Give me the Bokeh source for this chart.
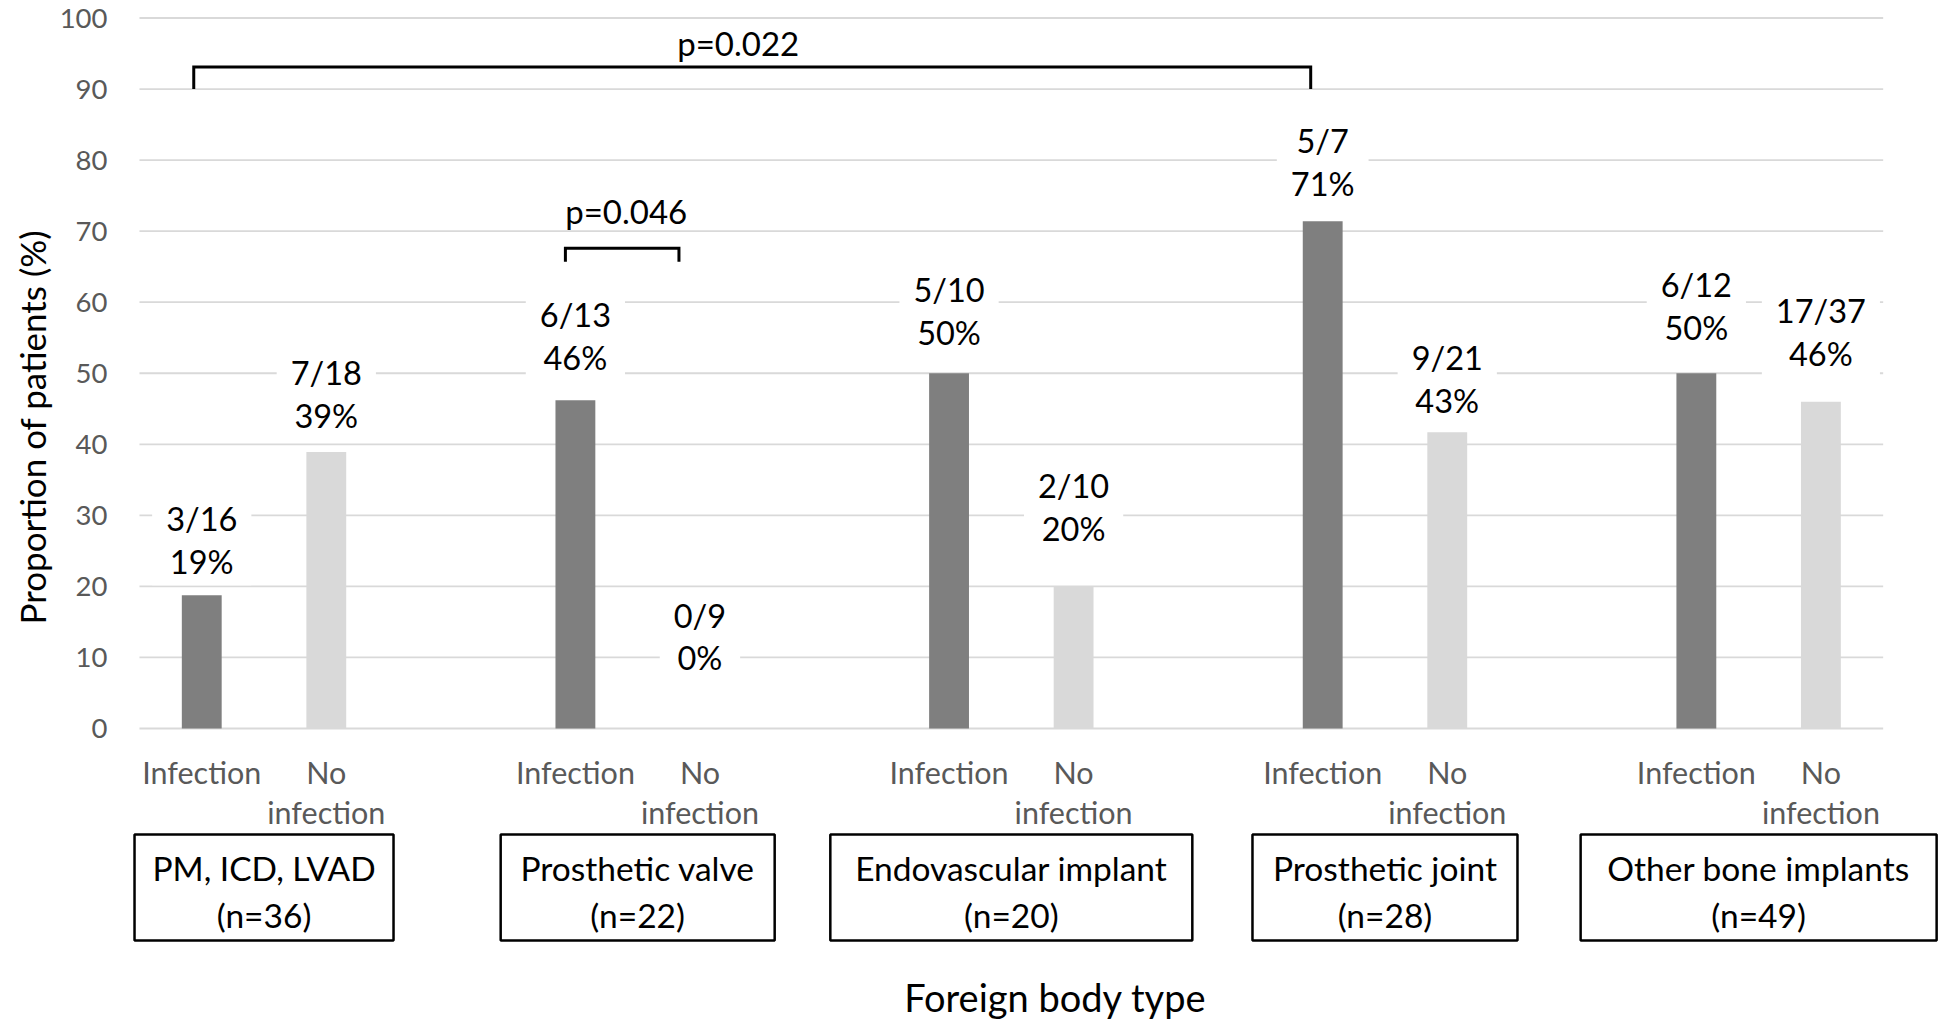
from bokeh.plotting import figure
from bokeh.models import ColumnDataSource, FixedTicker, Range1d, Title
from bokeh.core.properties import value
from bokeh.embed import file_html
from bokeh.resources import INLINE

# ---------------- data ----------------
groups = ["PM, ICD, LVAD", "Prosthetic valve", "Endovascular implant",
          "Prosthetic joint", "Other bone implants"]
group_n = [36, 22, 20, 28, 49]
bar_kinds = ["Infection", "No infection"]
counts = ["3/16", "7/18", "6/13", "0/9", "5/10", "2/10", "5/7", "9/21", "6/12", "17/37"]
pct_labels = ["19%", "39%", "46%", "0%", "50%", "20%", "71%", "43%", "50%", "46%"]
bar_values = [18.75, 38.9, 46.2, 0.0, 50.0, 20.0, 71.4, 41.7, 50.0, 46.0]
y_ticks = list(range(0, 101, 10))
y_title = "Proportion of patients (%)"
x_title = "Foreign body type"
p_texts = ["p=0.022", "p=0.046"]
p_pairs = [(0, 6), (2, 3)]          # bar indices joined by each bracket
p_bracket_top = [93.1, 67.6]
p_bracket_foot = [90.0, 65.7]
p_text_y = [96.5, 72.8]

# ---------------- styles / geometry ----------------
FONT = "Lato"
W, H = 1940, 1036
LEFT = 128
ZERO_PX, P100_PX = 728.0, 17.5        # canvas px of the 0 and 100 gridlines
PPU_Y = (ZERO_PX - P100_PX) / 100.0
Y1 = ZERO_PX / PPU_Y
Y0 = -(H - ZERO_PX) / PPU_Y
PPU_X = 124.55                         # px per slot
FIRST_SLOT_PX = 201.25
X0 = -(FIRST_SLOT_PX - LEFT) / PPU_X
X1 = X0 + (W - LEFT) / PPU_X
DARK, LIGHT = "#7f7f7f", "#d9d9d9"
label_lift_px = [33, 36, 42, 70, 40, 57, 37, 31, 45, 48]
box_width_px = [259, 274, 362, 265, 356]
bracket_end_shift_px = [(-8, -12), (-10, -21)]
p_text_shift_px = [-14, 4]

def slot(i):
    return 3 * (i // 2) + i % 2

slots = [slot(i) for i in range(len(bar_values))]
kinds = [bar_kinds[i % 2] for i in range(len(bar_values))]
colors = [DARK if i % 2 == 0 else LIGHT for i in range(len(bar_values))]

p = figure(width=W, height=H, output_backend="svg", toolbar_location=None,
           x_axis_location=None, x_range=Range1d(X0, X1), y_range=Range1d(Y0, Y1),
           min_border_left=LEFT, min_border_right=0, min_border_top=0, min_border_bottom=0)
p.outline_line_color = None
p.grid.visible = False
p.background_fill_color = "white"
p.border_fill_color = "white"

# y axis
ax = p.yaxis[0]
ax.ticker = FixedTicker(ticks=y_ticks)
ax.axis_line_color = None
ax.major_tick_line_color = None
ax.minor_tick_line_color = None
ax.major_tick_out = 0
ax.major_tick_in = 0
ax.major_label_standoff = LEFT - 107
ax.major_label_text_font = FONT
ax.major_label_text_font_size = "27.5px"
ax.major_label_text_color = "#595959"

# y title: its lower end sits near the reference position
p.add_layout(Title(text=y_title, align="left", offset=H - 624,
                   text_font=FONT, text_font_size="35px", text_font_style="normal",
                   text_color="black", standoff=8), "left")

# gridlines
p.segment(x0=-0.5, x1=13.5, y0=y_ticks, y1=y_ticks, line_color=LIGHT, line_width=1.8)

# bars
src = ColumnDataSource(dict(x=slots, top=bar_values, color=colors, kind=kinds))
p.vbar(x="x", top="top", width=0.32, bottom=0, fill_color="color", line_color=None, source=src)

# data labels (two lines, centred above each bar)
lab_src = ColumnDataSource(dict(
    x=slots,
    y=[v + (lift + 22) / PPU_Y for v, lift in zip(bar_values, label_lift_px)],
    text=[c + "\n" + pc for c, pc in zip(counts, pct_labels)],
))
p.text(x="x", y="y", text="text", source=lab_src, text_align="center", text_baseline="middle",
       text_font=value(FONT), text_font_size="32.5px", text_color="black", text_line_height=1.10,
       background_fill_color="white", padding=(14, 4))

# category labels under bars
cat_text = [k.replace(" ", "\n") for k in kinds]
cat_src = ColumnDataSource(dict(
    x=slots,
    y=[-(43.7 + 20 * t.count("\n")) / PPU_Y for t in cat_text],
    text=cat_text,
))
p.text(x="x", y="y", text="text", source=cat_src, text_align="center", text_baseline="middle",
       text_font=value(FONT), text_font_size="30.5px", text_color="#595959", text_line_height=1.12)

# group boxes
gx = [3 * g + 0.5 for g in range(len(groups))]
p.rect(x=gx, y=-159 / PPU_Y, width=box_width_px, height=106, width_units="screen",
       height_units="screen", fill_color=None, line_color="black", line_width=2.5)
p.text(x=gx, y=-162.8 / PPU_Y, text=[g + "\n" + "(n=%d)" % n for g, n in zip(groups, group_n)],
       text_align="center", text_baseline="middle", text_font=value(FONT),
       text_font_size="33.5px", text_color="black", text_line_height=1.18)

# x title
p.text(x=[6.5 + 44 / PPU_X], y=[-268.5 / PPU_Y], text=[x_title],
       text_align="center", text_baseline="middle", text_font=value(FONT),
       text_font_size="38px", text_color="black")

# significance brackets
bxs, bys, tx = [], [], []
for (a, b), top, foot, (sl, sr), ts in zip(p_pairs, p_bracket_top, p_bracket_foot,
                                          bracket_end_shift_px, p_text_shift_px):
    l = slot(a) + sl / PPU_X
    r = slot(b) + sr / PPU_X
    bxs.append([l, l, r, r])
    bys.append([foot, top, top, foot])
    tx.append((l + r) / 2 + ts / PPU_X)
p.multi_line(xs=bxs, ys=bys, line_color="black", line_width=3, line_join="miter")
p.text(x=tx, y=p_text_y, text=p_texts, text_align="center", text_baseline="middle",
       text_font=value(FONT), text_font_size="33px", text_color="black")

open("out.html", "w").write(file_html(p, INLINE))
